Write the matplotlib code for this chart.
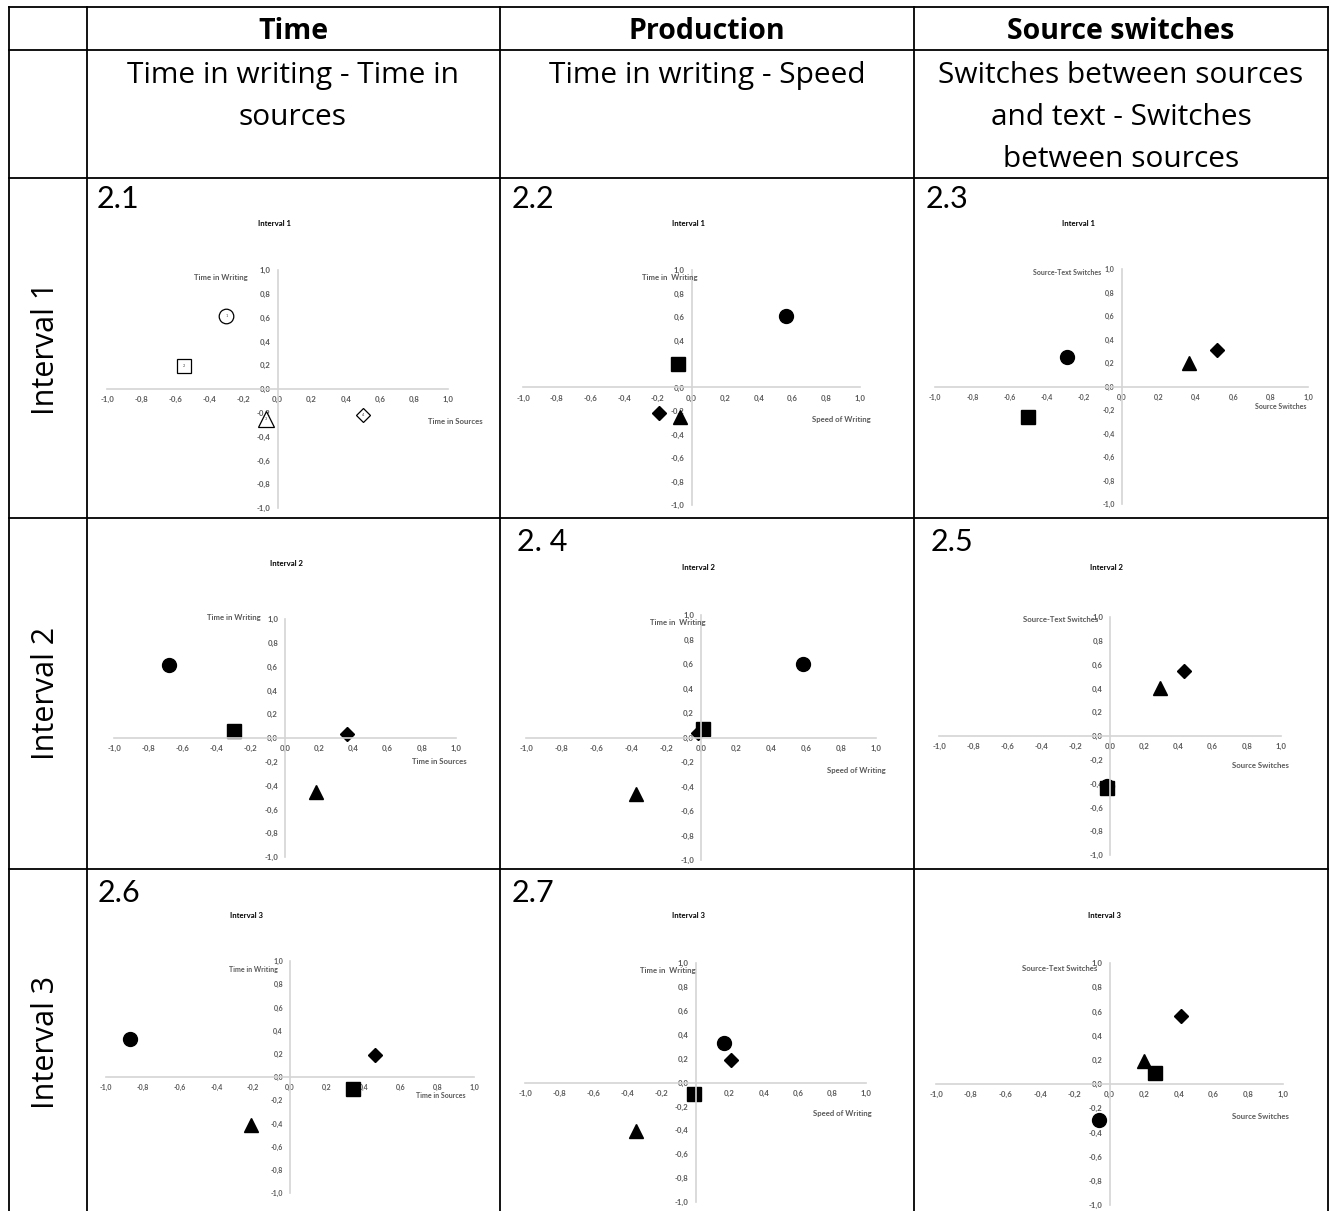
import matplotlib
matplotlib.use('Agg')
import matplotlib.pyplot as plt
from matplotlib.lines import Line2D
import numpy as np

plt.rcParams['font.family'] = ['Lato', 'DejaVu Sans']

W, H = 1331, 1211

# table text
col_heads = ["Time", "Production", "Source switches"]
col_subs = [["Time in writing - Time in", "sources"],
            ["Time in writing - Speed"],
            ["Switches between sources", "and text - Switches", "between sources"]]
row_heads = ["Interval 1", "Interval 2", "Interval 3"]

# panels, row by row
panel_ids = ["2.1", "2.2", "2.3", "", "2. 4", "2.5", "2.6", "2.7", ""]
panel_titles = ["Interval 1"] * 3 + ["Interval 2"] * 3 + ["Interval 3"] * 3
y_names = ["Time in Writing", "Time in  Writing", "Source-Text Switches"] * 3
x_names = ["Time in Sources", "Speed of Writing", "Source Switches"] * 3
tick_vals = [-1.0, -0.8, -0.6, -0.4, -0.2, 0.0, 0.2, 0.4, 0.6, 0.8, 1.0]

# marker positions, one entry per panel
circle_x = [-0.30, 0.56, -0.29, -0.68, 0.58, -0.02, -0.87, 0.17, -0.06]
circle_y = [0.61, 0.61, 0.25, 0.61, 0.60, -0.42, 0.33, 0.33, -0.30]
square_x = [-0.55, -0.08, -0.50, -0.30, 0.01, -0.02, 0.34, -0.01, 0.26]
square_y = [0.19, 0.20, -0.26, 0.06, 0.07, -0.44, -0.10, -0.10, 0.09]
triangle_x = [-0.07, -0.07, 0.36, 0.18, -0.37, 0.29, -0.21, -0.35, 0.20]
triangle_y = [-0.25, -0.25, 0.20, -0.45, -0.46, 0.40, -0.41, -0.41, 0.19]
diamond_x = [0.50, -0.19, 0.51, 0.36, -0.02, 0.43, 0.46, 0.21, 0.41]
diamond_y = [-0.22, -0.22, 0.31, 0.03, 0.04, 0.55, 0.19, 0.19, 0.56]

# layout in pixels: plot box (left, top, right, bottom), title pos, id pos, axis-name pos (data)
boxes = [(107, 270, 448, 508), (523, 270, 860, 505), (935, 269, 1308, 504),
         (114, 619, 456, 857), (526, 615, 876, 860), (939, 617, 1281, 855),
         (106, 961, 474, 1193), (525, 963, 866, 1202), (936, 963, 1283, 1205)]
title_pos = [(274, 224), (689, 223), (1078, 224), (286, 564), (699, 567), (1106, 567),
             (247, 916), (688, 916), (1105, 915)]
id_pos = [(97, 199), (512, 199), (926, 199), None, (517, 542), (931, 542),
          (98, 893), (512, 893), None]
yname_pos = [(-0.33, 0.94), (-0.13, 0.94), (-0.29, 0.97), (-0.30, 1.015), (-0.13, 0.936),
             (-0.29, 0.975), (-0.20, 0.93), (-0.16, 0.94), (-0.29, 0.955)]
xname_pos = [(1.04, -0.27), (0.89, -0.27), (0.855, -0.17), (0.90, -0.20), (0.89, -0.27),
             (0.88, -0.25), (0.82, -0.16), (0.86, -0.26), (0.87, -0.27)]


def fx(x):
    return x / W


def fy(y):
    return 1 - y / H


fig = plt.figure(figsize=(W / 100, H / 100), dpi=100)

# table grid
vlines = [8.5, 87, 500, 914, 1328]
hlines = [7, 50, 178, 518, 869]
for x in vlines:
    fig.add_artist(Line2D([fx(x), fx(x)], [fy(7), fy(1211)], color='black', lw=1.3))
for y in hlines:
    fig.add_artist(Line2D([fx(8.5), fx(1328)], [fy(y), fy(y)], color='black', lw=1.3))

table_font = ['Open Sans', 'DejaVu Sans']
col_centers = [293, 707, 1121]
for cx, head, subs in zip(col_centers, col_heads, col_subs):
    fig.text(fx(cx), fy(31.5), head, ha='center', va='center', fontsize=20.5,
             fontweight='bold', family=table_font)
    for i, line in enumerate(subs):
        fig.text(fx(cx), fy(75.5 + 42 * i), line, ha='center', va='center', fontsize=21.5,
                 family=table_font)

for cy, lab in zip([348, 693, 1042], row_heads):
    fig.text(fx(46), fy(cy), lab, ha='center', va='center', rotation=90, fontsize=22,
             family=table_font)

for i in range(9):
    l, t, r, b = boxes[i]
    ax = fig.add_axes([fx(l), fy(b), fx(r - l), (b - t) / H])
    ax.patch.set_alpha(0)
    ax.set_xlim(-1, 1)
    ax.set_ylim(-1, 1)
    for s in ['top', 'right']:
        ax.spines[s].set_visible(False)
    for s in ['left', 'bottom']:
        ax.spines[s].set_position(('data', 0))
        ax.spines[s].set_color('#d4d4d4')
        ax.spines[s].set_linewidth(1.2)
    ax.set_xticks(tick_vals)
    ax.set_yticks(tick_vals)
    labels = [f"{v:.1f}".replace('.', ',') for v in tick_vals]
    ax.set_xticklabels(labels)
    ax.set_yticklabels(labels)
    fs = 5.0 if i in (2, 6) else 5.6
    ax.tick_params(length=0, labelsize=fs, labelcolor='#595959', pad=5.0)
    for lab in ax.get_xticklabels() + ax.get_yticklabels():
        lab.set_fontweight('bold')

    if i == 0:
        style = dict(mfc='white', mec='black', mew=0.9, ls='none', clip_on=False)
        ax.plot(circle_x[i], circle_y[i], 'o', ms=10.5, **style)
        ax.plot(square_x[i], square_y[i], 's', ms=10.5, **style)
        ax.plot(triangle_x[i], triangle_y[i], '^', ms=11, **style)
        ax.plot(diamond_x[i], diamond_y[i], 'D', ms=7.5, **style)
        pts = [(circle_x[i], circle_y[i]), (square_x[i], square_y[i]),
               (triangle_x[i], triangle_y[i]), (diamond_x[i], diamond_y[i])]
        for k, (px, py) in enumerate(pts):
            ax.text(px, py, str(k + 1), ha='center', va='center', fontsize=2.8, color='#444444')
    else:
        style = dict(color='black', ls='none', clip_on=False)
        ax.plot(circle_x[i], circle_y[i], 'o', ms=10, **style)
        ax.plot(diamond_x[i], diamond_y[i], 'D', ms=7.5, **style)
        ax.plot(square_x[i], square_y[i], 's', ms=10, **style)
        ax.plot(triangle_x[i], triangle_y[i], '^', ms=10.5, **style)

    ax.text(*yname_pos[i], y_names[i], ha='center', va='center', fontsize=fs,
            fontweight='bold', color='#595959')
    ax.text(*xname_pos[i], x_names[i], ha='center', va='center', fontsize=fs,
            fontweight='bold', color='#595959')

    tx, ty = title_pos[i]
    fig.text(fx(tx), fy(ty), panel_titles[i], ha='center', va='center', fontsize=5.6,
             fontweight='bold')
    if id_pos[i] is not None:
        px, py = id_pos[i]
        fig.text(fx(px), fy(py), panel_ids[i], ha='left', va='center', fontsize=22)

fig.savefig("out.png", dpi=100)
